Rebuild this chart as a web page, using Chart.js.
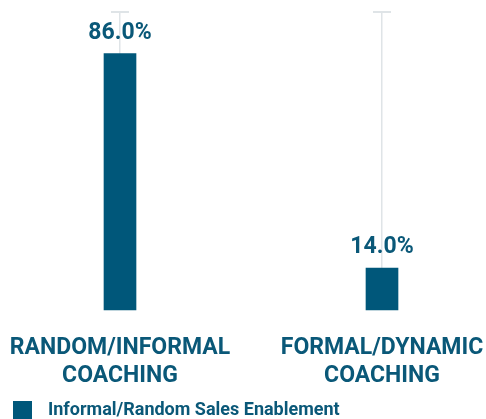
<!DOCTYPE html>
<html>
<head>
<meta charset="utf-8">
<script src="https://cdn.jsdelivr.net/npm/chart.js@4.4.1/dist/chart.umd.min.js"></script>
<style>
  html, body { margin: 0; padding: 0; background: #ffffff; }
  #wrap { width: 486px; height: 419px; position: relative; }
</style>
</head>
<body>
<div id="wrap"><canvas id="chart"></canvas></div>
<script>
// Coaching approach vs share of respondents (percent)
const categories = [['RANDOM/INFORMAL', 'COACHING'], ['FORMAL/DYNAMIC', 'COACHING']];
const seriesName = 'Informal/Random Sales Enablement';
const values = [86.0, 14.0];

const INK = '#0a5878';
const BAR = '#00577a';
const GRID = '#dfe4e7';
const FONT = 'Roboto, "DejaVu Sans", sans-serif';

// Legend swatch: solid square with blank space around it
const swatch = document.createElement('canvas');
swatch.width = 38;
swatch.height = 18;
(function () {
  const c = swatch.getContext('2d');
  c.fillStyle = BAR;
  c.fillRect(12, 0, 19, 18);
})();

// Percentage labels above each bar
const valueLabels = {
  id: 'valueLabels',
  afterDatasetsDraw(chart) {
    const ctx = chart.ctx;
    const meta = chart.getDatasetMeta(0);
    ctx.save();
    ctx.font = 'bold 23px ' + FONT;
    ctx.fillStyle = INK;
    ctx.textAlign = 'center';
    ctx.textBaseline = 'alphabetic';
    meta.data.forEach((bar, i) => {
      ctx.fillText(values[i].toFixed(1) + '%', bar.x, bar.y - 15);
    });
    ctx.restore();
  }
};

// Short caps on top of the vertical category gridlines
const gridCaps = {
  id: 'gridCaps',
  beforeDatasetsDraw(chart) {
    const ctx = chart.ctx;
    const xs = chart.scales.x;
    const top = chart.chartArea.top;
    ctx.save();
    ctx.strokeStyle = GRID;
    ctx.lineWidth = 2;
    xs.ticks.forEach((t, i) => {
      const x = xs.getPixelForTick(i);
      ctx.beginPath();
      ctx.moveTo(x - 9, top);
      ctx.lineTo(x + 9, top);
      ctx.stroke();
    });
    ctx.restore();
  }
};

new Chart(document.getElementById('chart'), {
  type: 'bar',
  data: {
    labels: categories,
    datasets: [{
      label: seriesName,
      data: values,
      backgroundColor: BAR,
      borderWidth: 0,
      barThickness: 32,
      clip: false,
      pointStyle: swatch
    }]
  },
  options: {
    responsive: true,
    maintainAspectRatio: false,
    animation: false,
    layout: { padding: { top: 12, left: 0, right: 0, bottom: -10 } },
    scales: {
      x: {
        offset: false,
        border: { display: false },
        grid: { color: GRID, lineWidth: 1.5, drawTicks: false, offset: false },
        ticks: {
          color: INK,
          padding: 24,
          maxRotation: 0,
          autoSkip: false,
          font: { family: FONT, size: 23, weight: 'bold', lineHeight: 1.22 }
        },
        afterFit(scale) {
          // keep the two category centres where the bars sit
          scale.paddingLeft = 120;
          scale.paddingRight = 104;
          // tighten the band between the category names and the legend
          scale.height -= 14;
        }
      },
      y: {
        display: false,
        min: 0,
        max: 100
      }
    },
    plugins: {
      legend: {
        position: 'bottom',
        align: 'start',
        labels: {
          color: INK,
          usePointStyle: true,
          pointStyleWidth: 38,
          boxHeight: 18,
          padding: 1,
          font: { family: FONT, size: 18, weight: 'bold', lineHeight: 1.0 }
        }
      },
      tooltip: { enabled: false }
    }
  },
  plugins: [gridCaps, valueLabels]
});
</script>
</body>
</html>
